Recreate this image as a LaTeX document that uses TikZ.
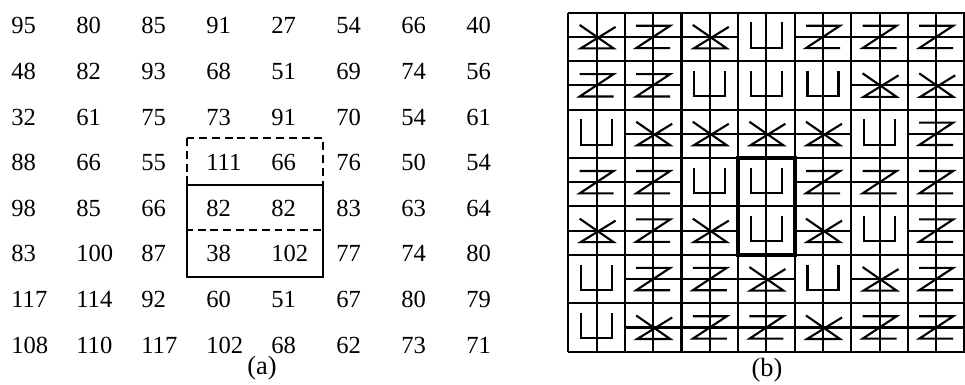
\documentclass[tikz,border=0pt]{standalone}
\usepackage{fontspec}
\setmainfont{Liberation Serif}
\begin{document}
\begin{tikzpicture}[x = 0.02cm, y = -0.02cm,
  entry/.style = {anchor = base west, inner sep = 0pt, font = \fontsize{14}{16}\selectfont},
  caption/.style = {anchor = base, inner sep = 0pt, font = \fontsize{15}{17}\selectfont},
  cellline/.style = {line width = 1.2pt},
  glyph/.style = {line width = 1.2pt},
  zorder/.pic = {\draw [cellline] (-28.3,0) -- (28.3,0) (0,-24.2) -- (0,24.2);
    \draw [glyph] (-17,-11.2) -- (17,-11.2) -- (-17,11.2) -- (17,11.2);},
  xorder/.pic = {\draw [cellline] (-28.3,0) -- (28.3,0) (0,-24.2) -- (0,24.2);
    \draw [glyph] (-17,-12) -- (17,11.5) -- (-16,11.5) -- (19,-10);},
  uorder/.pic = {\draw [cellline] (0,-24.2) -- (0,24.2);
    \draw [glyph] (-15.5,-14.5) -- (-15.5,10.8) -- (15.5,10.8) -- (15.5,-14.5);}]
\useasboundingbox (0,0) rectangle (965,385);
\foreach \row [count = \i] in {{95,80,85,91,27,54,66,40},{48,82,93,68,51,69,74,56},
  {32,61,75,73,91,70,54,61},{88,66,55,111,66,76,50,54},{98,85,66,82,82,83,63,64},
  {83,100,87,38,102,77,74,80},{117,114,92,60,51,67,80,79},{108,110,117,102,68,62,73,71}}
  \foreach \v [count = \j] in \row
    \node [entry] (n\i\j) at ({11+65*(\j-1)},{34+45.6*(\i-1)}) {\v};
\draw [line width = 0.9pt, dash pattern = on 4.5pt off 2.8pt] (187,138) rectangle (323,230);
\draw [line width = 0.9pt] (187,185) rectangle (323,277);
\node [caption] (capa) at (262,375) {(a)};
\foreach \k in {0,...,7} {
  \draw [cellline] ({568.3+56.6*\k},12.7) -- ({568.3+56.6*\k},351.7);
  \draw [cellline] (568.3,{12.7+48.43*\k}) -- (964.5,{12.7+48.43*\k});
}
\foreach \row [count = \rw] in {{x,z,x,u,z,z,z},{z,z,u,u,u,x,x},{u,x,x,x,x,u,z},
  {z,z,u,u,z,z,z},{x,z,x,u,x,u,z},{u,z,z,x,u,x,z},{u,x,z,z,x,z,z}}
  \foreach \g [count = \cl] in \row {
    \coordinate (cell\rw\cl) at ({568.3+56.6*(\cl-0.5)},{12.7+48.43*(\rw-0.5)});
    \if z\g \pic at (cell\rw\cl) {zorder}; \fi
    \if x\g \pic at (cell\rw\cl) {xorder}; \fi
    \if u\g \pic at (cell\rw\cl) {uorder}; \fi
  }
\draw [line width = 2.2pt] (738.1,158) rectangle (794.7,254.85);
\node [caption] (capb) at (767,377) {(b)};
\end{tikzpicture}
\end{document}
